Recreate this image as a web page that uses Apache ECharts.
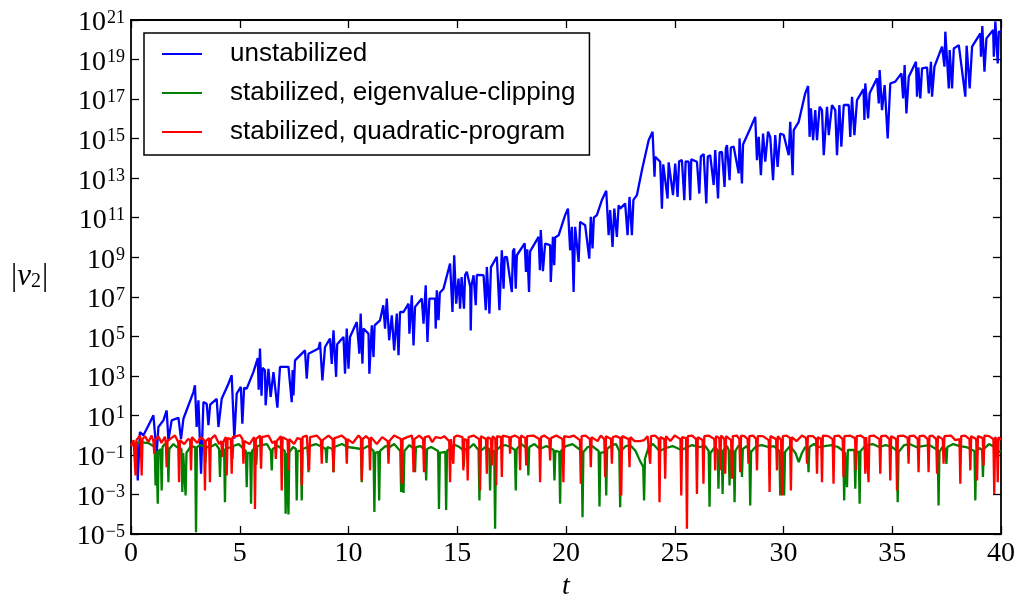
<!DOCTYPE html>
<html>
<head>
<meta charset="utf-8">
<script src="https://cdn.jsdelivr.net/npm/echarts@6/dist/echarts.min.js"></script>
<style>
html, body { margin: 0; padding: 0; background: #ffffff; overflow: hidden; }
#chart { width: 1017px; height: 594px; }
</style>
</head>
<body>
<div id="chart"></div>
<script>
// Legend names and line colours
const seriesNames = [
  'unstabilized',
  'stabilized, eigenvalue-clipping',
  'stabilized, quadratic-program'
];
const seriesColors = ['#0000ff', '#008000', '#ff0000'];

// Axis ranges and tick exponents (|v2| axis is logarithmic)
const tRange = [0, 40];
const tStep = 5;
const yExpRange = [-5, 21];
const yExpStep = 2;

// Samples of |v2| over time, stored as [t, log10 |v2|]
const unstabilized = [
  [0.00,-0.52],[0.26,-0.40],[0.31,-2.29],[0.41,0.16],[0.57,-0.01],[0.80,0.49],[1.03,1.00],[1.18,-0.94],
  [1.26,0.41],[1.49,0.75],[1.64,1.25],[1.72,-0.26],[1.87,0.75],[2.18,0.88],[2.30,-0.20],[2.41,0.83],
  [2.87,2.18],[2.94,2.52],[3.02,0.41],[3.10,1.76],[3.22,-1.95],[3.33,1.67],[3.48,1.59],[3.56,0.50],
  [3.64,1.55],[3.71,1.51],[3.94,1.84],[4.02,0.41],[4.17,1.84],[4.48,2.60],[4.63,3.03],[4.75,-0.18],
  [4.86,2.10],[5.05,2.45],[5.12,0.58],[5.20,2.40],[5.32,2.35],[5.63,3.20],[5.83,3.90],[5.87,2.30],
  [5.93,4.38],[6.00,2.00],[6.05,3.40],[6.16,3.28],[6.19,1.51],[6.32,3.36],[6.42,1.93],[6.55,3.19],
  [6.73,1.39],[6.85,3.45],[7.24,3.45],[7.39,1.67],[7.43,3.30],[7.47,2.01],[7.54,3.78],[8.00,4.29],
  [8.08,2.86],[8.16,4.12],[8.62,4.38],[8.69,4.71],[8.80,2.77],[8.92,4.46],[9.15,4.88],[9.23,3.60],
  [9.31,5.30],[9.43,2.95],[9.48,4.60],[9.77,4.97],[9.84,3.11],[9.92,5.39],[10.00,3.36],[10.07,4.97],
  [10.38,5.72],[10.50,4.12],[10.56,6.15],[10.64,3.62],[10.69,5.39],[10.92,5.13],[10.96,3.11],[11.07,5.56],
  [11.15,3.95],[11.20,5.55],[11.45,5.81],[11.60,6.57],[11.68,5.39],[11.76,6.91],[11.87,4.80],[11.99,6.06],
  [12.10,4.29],[12.22,6.15],[12.30,4.04],[12.37,6.23],[12.53,6.23],[12.76,6.65],[12.80,5.13],[12.91,7.07],
  [12.99,4.54],[13.06,6.49],[13.37,6.91],[13.45,5.64],[13.55,7.58],[13.63,4.71],[13.72,6.91],[13.98,6.91],
  [14.01,5.39],[14.06,7.33],[14.14,5.81],[14.20,7.20],[14.37,7.41],[14.67,8.68],[14.78,6.23],[14.86,9.10],
  [14.95,6.65],[15.06,7.92],[15.13,6.40],[15.20,8.00],[15.26,8.09],[15.31,6.40],[15.36,8.10],[15.44,8.26],
  [15.60,7.50],[15.62,5.30],[15.66,7.60],[15.75,8.09],[15.85,6.57],[15.90,8.10],[15.98,8.17],[16.21,8.09],
  [16.31,6.32],[16.36,8.51],[16.48,6.15],[16.55,8.50],[16.82,9.02],[16.94,6.32],[17.05,9.35],[17.13,7.41],
  [17.18,9.00],[17.28,9.02],[17.51,7.24],[17.56,9.30],[17.62,9.44],[17.69,7.41],[17.74,9.10],[17.82,9.02],
  [18.10,9.70],[18.16,8.26],[18.22,9.40],[18.30,7.24],[18.35,9.30],[18.43,9.35],[18.74,10.03],[18.80,8.34],
  [18.84,10.37],[18.94,8.30],[19.04,9.69],[19.27,9.61],[19.30,7.75],[19.40,10.03],[19.46,8.60],[19.50,10.00],
  [19.66,10.11],[19.96,11.13],[20.09,11.46],[20.19,9.35],[20.27,10.54],[20.35,7.24],[20.42,10.54],[20.58,8.76],
  [20.65,10.79],[20.88,10.62],[21.07,8.93],[21.14,11.04],[21.22,9.44],[21.28,11.00],[21.42,11.13],[21.65,11.89],
  [21.85,12.36],[21.96,10.11],[22.03,11.38],[22.14,9.52],[22.22,11.46],[22.34,10.03],[22.42,11.63],[22.49,11.46],
  [22.72,11.72],[22.83,10.11],[22.92,12.05],[23.03,10.11],[23.10,11.90],[23.26,12.14],[23.49,13.40],[23.80,14.92],
  [23.98,15.35],[24.07,13.07],[24.10,14.08],[24.33,13.83],[24.41,11.46],[24.47,13.70],[24.56,13.66],[24.67,11.97],
  [24.72,13.80],[24.79,13.83],[24.92,12.14],[25.02,13.74],[25.13,12.05],[25.20,13.85],[25.33,13.91],[25.44,11.89],
  [25.50,13.85],[25.64,13.83],[25.71,11.89],[25.76,13.95],[25.84,14.05],[26.02,13.83],[26.13,12.22],[26.20,14.10],
  [26.33,14.22],[26.45,11.72],[26.52,14.10],[26.63,14.16],[26.79,12.65],[26.86,14.42],[26.99,11.97],[27.06,14.30],
  [27.17,14.33],[27.29,12.56],[27.35,14.50],[27.40,14.67],[27.52,12.90],[27.58,14.55],[27.71,14.59],[27.94,13.24],
  [27.98,15.01],[28.09,12.73],[28.14,14.70],[28.20,14.67],[28.47,15.51],[28.70,16.10],[28.78,13.91],[28.86,15.09],
  [28.96,13.15],[29.06,15.26],[29.16,13.83],[29.29,15.35],[29.39,15.09],[29.52,12.90],[29.62,15.18],[29.73,13.57],
  [29.85,15.26],[30.01,15.18],[30.24,14.16],[30.31,15.85],[30.42,13.15],[30.47,15.43],[30.70,15.85],[31.00,17.29],
  [31.13,17.66],[31.20,15.09],[31.26,16.53],[31.36,14.92],[31.46,16.44],[31.54,14.92],[31.66,16.61],[31.77,16.44],
  [31.85,14.16],[32.00,16.61],[32.08,15.18],[32.23,16.70],[32.38,16.44],[32.46,14.16],[32.57,16.70],[32.66,14.59],
  [32.77,16.70],[33.00,16.70],[33.07,15.09],[33.15,17.12],[33.26,15.18],[33.38,16.95],[33.68,17.50],[33.72,15.94],
  [33.76,17.79],[33.89,16.02],[33.96,17.29],[34.30,18.05],[34.38,16.78],[34.42,18.47],[34.53,16.44],[34.65,17.71],
  [34.79,15.01],[34.91,17.79],[35.14,17.88],[35.42,18.30],[35.50,17.03],[35.57,18.72],[35.65,16.27],[35.76,18.13],
  [36.09,18.89],[36.14,17.12],[36.20,18.60],[36.29,17.03],[36.37,18.55],[36.60,18.60],[36.68,17.29],[36.78,18.89],
  [36.83,17.12],[36.94,18.64],[37.29,19.65],[37.40,18.64],[37.44,20.41],[37.60,17.54],[37.64,19.48],[37.75,17.54],
  [37.83,19.56],[38.06,19.73],[38.36,17.12],[38.42,19.70],[38.47,19.73],[38.56,17.54],[38.67,19.65],[39.05,20.32],
  [39.08,19.14],[39.14,20.70],[39.24,18.38],[39.33,20.07],[39.64,20.49],[39.67,19.14],[39.74,20.92],[39.85,18.80],
  [39.90,20.41],[40.00,20.41]
];

const eigenvalueClipping = [
  [0.00,-0.50],[0.40,-0.35],[0.80,-0.40],[1.09,-0.60],[1.13,-2.54],[1.17,-0.80],[1.19,-0.90],[1.23,-3.47],
  [1.27,-0.80],[1.37,-0.70],[1.41,-2.80],[1.45,-0.60],[1.55,-0.45],[1.68,-0.60],[1.72,-2.38],[1.76,-0.70],
  [1.95,-0.45],[2.10,-0.60],[2.32,-0.70],[2.36,-2.88],[2.40,-0.90],[2.47,-0.90],[2.51,-3.05],[2.55,-0.90],
  [2.75,-0.55],[2.95,-0.60],[2.99,-4.91],[3.03,-0.60],[3.20,-0.50],[3.38,-0.60],[3.42,-1.40],[3.46,-0.60],
  [3.65,-0.60],[3.90,-0.45],[4.05,-0.70],[4.09,-2.12],[4.13,-0.80],[4.28,-0.70],[4.32,-3.39],[4.36,-0.70],
  [4.60,-0.60],[4.66,-1.20],[4.70,-0.55],[4.95,-0.45],[5.28,-0.80],[5.32,-2.63],[5.36,-0.90],[5.48,-0.90],
  [5.52,-3.47],[5.56,-0.80],[5.72,-0.60],[5.76,-1.50],[5.80,-0.55],[6.00,-0.50],[6.25,-0.45],[6.43,-0.80],
  [6.47,-1.78],[6.51,-0.70],[6.75,-0.55],[6.95,-0.70],[7.07,-0.80],[7.11,-3.98],[7.15,-0.90],[7.20,-0.90],
  [7.24,-4.01],[7.28,-0.85],[7.45,-0.60],[7.58,-0.70],[7.62,-3.30],[7.66,-0.80],[7.81,-0.80],[7.85,-3.30],
  [7.89,-0.70],[8.12,-0.60],[8.16,-1.87],[8.20,-0.55],[8.50,-0.45],[8.80,-0.60],[8.95,-0.70],[8.99,-1.40],
  [9.03,-0.60],[9.27,-0.70],[9.31,-1.87],[9.35,-0.60],[9.70,-0.45],[9.95,-0.60],[10.30,-0.65],[10.57,-0.70],
  [10.61,-2.38],[10.65,-0.70],[10.90,-0.55],[11.15,-0.80],[11.19,-3.89],[11.23,-0.90],[11.37,-0.85],[11.41,-3.30],
  [11.45,-0.80],[11.70,-0.55],[11.90,-0.60],[12.10,-0.45],[12.38,-0.80],[12.42,-2.88],[12.46,-0.90],[12.49,-0.90],
  [12.53,-2.93],[12.57,-0.80],[12.80,-0.50],[13.02,-0.70],[13.06,-1.87],[13.10,-0.60],[13.30,-0.55],[13.53,-0.75],
  [13.57,-2.29],[13.61,-0.70],[13.80,-0.60],[14.12,-0.80],[14.16,-3.73],[14.20,-0.90],[14.45,-0.85],[14.49,-3.78],
  [14.53,-0.80],[14.70,-0.65],[14.90,-0.50],[15.10,-0.60],[15.26,-0.75],[15.30,-1.60],[15.34,-0.70],[15.50,-0.70],
  [15.75,-0.45],[15.98,-0.75],[16.02,-3.30],[16.06,-0.80],[16.30,-0.60],[16.47,-0.70],[16.51,-2.80],[16.55,-0.80],
  [16.70,-0.80],[16.74,-4.74],[16.78,-0.80],[17.00,-0.55],[17.20,-0.50],[17.45,-0.60],[17.65,-0.75],[17.69,-2.80],
  [17.73,-0.70],[17.95,-0.45],[18.23,-0.70],[18.27,-2.04],[18.31,-0.60],[18.55,-0.45],[18.80,-0.70],[19.10,-0.55],
  [19.43,-0.75],[19.47,-2.29],[19.51,-0.80],[19.69,-0.85],[19.73,-3.47],[19.77,-0.80],[20.00,-0.55],[20.30,-0.45],
  [20.72,-0.80],[20.76,-4.15],[20.80,-0.85],[21.00,-0.60],[21.20,-0.55],[21.50,-0.80],[21.54,-3.61],[21.58,-0.90],
  [21.81,-0.85],[21.85,-3.05],[21.89,-0.70],[22.10,-0.50],[22.30,-0.45],[22.45,-0.80],[22.49,-3.64],[22.53,-0.80],
  [22.75,-0.55],[22.95,-0.50],[23.20,-0.80],[23.40,-1.30],[23.55,-1.60],[23.59,-3.30],[23.63,-1.20],[23.80,-0.60],
  [24.00,-0.45],[24.30,-0.80],[24.60,-0.65],[24.90,-0.55],[25.30,-0.75],[25.60,-0.60],[25.80,-0.50],[26.10,-0.60],
  [26.40,-0.55],[26.56,-0.80],[26.60,-3.62],[26.64,-0.90],[26.85,-0.60],[26.97,-0.75],[27.01,-2.71],[27.05,-0.80],
  [27.16,-0.80],[27.20,-2.97],[27.24,-0.75],[27.40,-0.55],[27.48,-0.75],[27.52,-2.54],[27.56,-0.80],[27.71,-0.80],
  [27.75,-3.39],[27.79,-0.80],[27.95,-0.50],[28.05,-0.70],[28.09,-2.12],[28.13,-0.70],[28.30,-0.55],[28.43,-0.75],
  [28.47,-3.56],[28.51,-0.85],[28.75,-0.55],[29.00,-0.50],[29.30,-0.60],[29.55,-0.55],[29.81,-0.80],[29.85,-3.05],
  [29.89,-0.90],[29.99,-0.90],[30.03,-3.05],[30.07,-0.85],[30.30,-0.55],[30.55,-0.90],[30.70,-1.36],[30.85,-0.90],
  [31.00,-0.60],[31.11,-0.70],[31.15,-1.87],[31.19,-0.60],[31.40,-0.45],[31.60,-0.60],[31.90,-0.55],[32.20,-0.50],
  [32.50,-0.60],[32.75,-0.80],[32.79,-3.30],[32.83,-0.85],[32.88,-0.85],[32.92,-2.63],[32.96,-0.75],[33.26,-0.75],
  [33.30,-2.71],[33.34,-0.85],[33.46,-0.85],[33.50,-3.47],[33.54,-0.80],[33.80,-0.50],[34.10,-0.45],[34.40,-0.60],
  [34.70,-0.50],[35.00,-0.60],[35.21,-0.80],[35.25,-3.39],[35.29,-0.85],[35.55,-0.50],[35.80,-0.45],[36.10,-0.60],
  [36.40,-0.55],[36.70,-0.50],[37.09,-0.75],[37.13,-3.56],[37.17,-0.85],[37.30,-0.60],[37.45,-0.70],[37.49,-1.45],
  [37.53,-0.60],[37.80,-0.45],[38.10,-0.55],[38.40,-0.60],[38.78,-0.80],[38.82,-3.30],[38.86,-0.85],[39.00,-0.65],
  [39.13,-0.75],[39.17,-2.12],[39.21,-0.70],[39.45,-0.45],[39.70,-0.60],[39.90,-0.85],[40.00,-0.80]
];

const quadraticProgram = [
  [0.00,-0.55],[0.12,-0.25],[0.17,-0.35],[0.21,-2.04],[0.25,-0.25],[0.41,-0.02],[0.45,-0.30],[0.49,-2.04],
  [0.53,-0.20],[0.64,-0.05],[0.80,-0.35],[0.95,-0.02],[1.03,-0.30],[1.07,-0.94],[1.11,-0.25],[1.26,-0.05],
  [1.40,-0.40],[1.56,-0.08],[1.60,-0.35],[1.64,-1.62],[1.68,-0.30],[1.85,-0.15],[2.02,-0.02],[2.17,-0.35],
  [2.21,-2.38],[2.25,-0.25],[2.45,-0.45],[2.62,-0.20],[2.72,-0.25],[2.76,-1.78],[2.80,-0.10],[2.87,-0.02],
  [3.05,-0.40],[3.20,-0.10],[3.36,-0.25],[3.40,-2.80],[3.44,-0.30],[3.59,-0.15],[3.63,-2.38],[3.67,-0.20],
  [3.86,0.00],[4.05,-0.45],[4.15,-0.30],[4.20,-1.10],[4.24,-0.35],[4.36,-0.10],[4.40,-2.04],[4.44,-0.15],
  [4.59,-0.20],[4.63,-1.95],[4.67,-0.10],[4.85,-0.05],[5.01,0.00],[5.13,-0.20],[5.17,-1.45],[5.21,-0.30],
  [5.45,-0.45],[5.66,-0.10],[5.70,-3.73],[5.74,-0.20],[5.93,-0.02],[5.98,-1.70],[6.02,-0.10],[6.32,-0.02],
  [6.50,-0.40],[6.62,-0.30],[6.66,-1.20],[6.70,-0.30],[6.89,-0.05],[6.93,-2.80],[6.97,-0.10],[7.20,-0.25],
  [7.24,-1.78],[7.28,-0.20],[7.50,-0.45],[7.65,-0.15],[7.81,-0.20],[7.85,-2.54],[7.89,-0.10],[8.08,-0.02],
  [8.15,-0.10],[8.19,-1.78],[8.23,-0.10],[8.54,-0.02],[8.73,-0.25],[8.77,-1.45],[8.81,-0.25],[9.08,-0.02],
  [9.27,-0.20],[9.31,-1.87],[9.35,-0.15],[9.50,-0.10],[9.69,-0.02],[9.88,-0.20],[9.92,-1.45],[9.96,-0.20],
  [10.20,-0.40],[10.46,-0.02],[10.57,-0.15],[10.61,-2.29],[10.65,-0.20],[10.80,-0.05],[10.95,-0.20],[10.99,-1.78],
  [11.03,-0.10],[11.30,-0.45],[11.55,-0.10],[11.80,-0.30],[11.84,-1.45],[11.88,-0.30],[12.10,-0.02],[12.41,-0.20],
  [12.45,-2.46],[12.49,-0.20],[12.70,-0.10],[12.91,-0.02],[12.95,-0.25],[12.99,-1.87],[13.03,-0.20],[13.25,-0.02],
  [13.43,-0.20],[13.47,-1.87],[13.51,-0.10],[13.70,-0.05],[13.85,-0.35],[14.00,-0.10],[14.25,-0.15],[14.40,-0.05],
  [14.63,-0.30],[14.67,-2.38],[14.71,-0.20],[14.78,-0.15],[14.82,-1.45],[14.86,-0.10],[15.00,-0.02],[15.24,-0.10],
  [15.28,-1.78],[15.32,-0.20],[15.44,-0.25],[15.48,-2.29],[15.52,-0.10],[15.75,-0.02],[16.01,-0.20],[16.05,-2.80],
  [16.09,-0.05],[16.32,-0.20],[16.36,-1.95],[16.40,-0.10],[16.55,-0.20],[16.59,-1.53],[16.63,-0.05],[16.75,-0.20],
  [16.79,-2.54],[16.83,-0.05],[17.01,-0.10],[17.05,-2.12],[17.09,-0.02],[17.39,-0.10],[17.43,-0.94],[17.47,-0.10],
  [17.65,-0.02],[17.85,-0.15],[17.89,-1.78],[17.93,-0.02],[18.13,-0.15],[18.17,-1.53],[18.21,-0.05],[18.50,-0.02],
  [18.77,-0.20],[18.81,-2.38],[18.85,-0.10],[19.00,-0.02],[19.23,-0.20],[19.27,-1.28],[19.31,-0.15],[19.55,-0.02],
  [19.84,-0.20],[19.88,-2.38],[19.92,-0.05],[20.15,-0.10],[20.35,-0.02],[20.64,-0.25],[20.68,-2.46],[20.72,-0.05],
  [20.90,-0.02],[21.10,-0.20],[21.14,-1.62],[21.18,-0.10],[21.45,-0.30],[21.60,-0.02],[21.76,-0.20],[21.80,-2.12],
  [21.84,-0.05],[22.07,-0.20],[22.11,-1.45],[22.15,-0.10],[22.30,-0.05],[22.50,-0.15],[22.54,-3.05],[22.58,-0.05],
  [22.88,-0.20],[22.92,-1.62],[22.96,-0.10],[23.15,-0.30],[23.40,-0.30],[23.60,-0.25],[23.75,-0.05],[23.83,-0.10],
  [23.87,-1.45],[23.91,-0.05],[24.10,-0.02],[24.26,-0.20],[24.30,-3.39],[24.34,-0.10],[24.52,-0.20],[24.56,-2.21],
  [24.60,-0.05],[24.80,-0.30],[25.00,-0.02],[25.26,-0.20],[25.30,-3.05],[25.34,-0.10],[25.52,-0.15],[25.56,-4.74],
  [25.60,-0.05],[25.80,-0.02],[25.98,-0.20],[26.02,-2.97],[26.06,-0.10],[26.28,-0.25],[26.32,-2.46],[26.36,-0.05],
  [26.55,-0.02],[26.82,-0.20],[26.86,-1.78],[26.90,-0.05],[27.05,-0.15],[27.09,-1.78],[27.13,-0.02],[27.28,-0.20],
  [27.32,-1.95],[27.36,-0.05],[27.59,-0.25],[27.63,-2.21],[27.67,-0.05],[27.85,-0.02],[27.97,-0.20],[28.01,-1.87],
  [28.05,-0.02],[28.20,-0.05],[28.35,-0.20],[28.39,-1.45],[28.43,-0.05],[28.60,-0.02],[28.74,-0.20],[28.78,-1.78],
  [28.82,-0.05],[29.05,-0.05],[29.32,-0.25],[29.36,-2.88],[29.40,-0.05],[29.66,-0.20],[29.70,-1.78],[29.74,-0.05],
  [29.89,-0.25],[29.93,-3.05],[29.97,-0.05],[30.15,-0.02],[30.30,-0.15],[30.34,-2.80],[30.38,-0.10],[30.60,-0.30],
  [30.85,-0.02],[31.04,-0.15],[31.08,-1.45],[31.12,-0.05],[31.35,-0.05],[31.50,-0.20],[31.54,-1.95],[31.58,-0.10],
  [31.73,-0.20],[31.77,-2.38],[31.81,-0.02],[32.05,-0.05],[32.26,-0.20],[32.30,-2.46],[32.34,-0.05],[32.55,-0.02],
  [32.72,-0.20],[32.76,-2.12],[32.80,-0.05],[33.05,-0.02],[33.29,-0.15],[33.33,-1.78],[33.37,-0.05],[33.55,-0.02],
  [33.72,-0.15],[33.76,-1.95],[33.80,-0.10],[33.87,-0.20],[33.91,-2.38],[33.95,-0.05],[34.15,-0.02],[34.41,-0.20],
  [34.45,-1.95],[34.49,-0.05],[34.70,-0.02],[34.87,-0.20],[34.91,-2.29],[34.95,-0.05],[35.18,-0.20],[35.22,-2.80],
  [35.26,-0.05],[35.50,-0.02],[35.71,-0.15],[35.75,-1.45],[35.79,-0.05],[36.00,-0.02],[36.17,-0.20],[36.21,-1.87],
  [36.25,-0.05],[36.45,-0.02],[36.63,-0.20],[36.67,-1.87],[36.71,-0.05],[36.85,-0.02],[37.02,-0.20],[37.06,-1.95],
  [37.10,-0.05],[37.32,-0.20],[37.36,-1.45],[37.40,-0.05],[37.70,-0.02],[37.90,-0.25],[38.09,-0.20],[38.13,-2.46],
  [38.17,-0.05],[38.35,-0.02],[38.55,-0.20],[38.59,-1.78],[38.63,-0.05],[38.86,-0.20],[38.90,-2.29],[38.94,-0.05],
  [39.16,-0.15],[39.20,-1.53],[39.24,-0.02],[39.45,-0.05],[39.65,-0.20],[39.69,-2.97],[39.73,-0.10],[39.81,-0.25],
  [39.85,-2.38],[39.89,-0.10],[40.00,-0.25]
];

const seriesData = [unstabilized, eigenvalueClipping, quadraticProgram];

const serif = 'Liberation Serif';
const sans = 'Liberation Sans';

// back from log10 to |v2| for the log axis
const toValues = arr => arr.map(p => [p[0], Math.pow(10, p[1])]);

const powerLabel = value => {
  const e = Math.round(Math.log10(value));
  return '{b|10}{e|' + (e < 0 ? '\u2212' + (-e) : e) + '}';
};

const frameLine = { show: true, onZero: false, lineStyle: { color: '#000', width: 1.8 } };
const tickIn = { show: true, inside: true, length: 8, lineStyle: { color: '#000', width: 1.3 } };

const chart = echarts.init(document.getElementById('chart'), null, { renderer: 'canvas' });

chart.setOption({
  animation: false,
  backgroundColor: '#ffffff',
  grid: { left: 131, right: 16, top: 20, bottom: 60, containLabel: false, outerBoundsMode: 'none' },
  legend: {
    left: 144,
    top: 33,
    orient: 'vertical',
    icon: 'rect',
    itemWidth: 40,
    itemHeight: 2,
    itemGap: 13,
    padding: [8, 14, 10, 18],
    backgroundColor: '#ffffff',
    borderColor: '#000000',
    borderWidth: 1.5,
    borderRadius: 0,
    textStyle: { fontFamily: sans, fontSize: 26, lineHeight: 26, color: '#000', padding: [0, 0, 0, 23] },
    data: seriesNames
  },
  xAxis: [
    {
      type: 'value', min: tRange[0], max: tRange[1], interval: tStep,
      axisLine: frameLine, axisTick: tickIn, splitLine: { show: false },
      axisLabel: { fontFamily: serif, fontSize: 28, color: '#000', margin: 6 },
      name: 't', nameLocation: 'middle', nameGap: 27,
      nameTextStyle: { fontFamily: serif, fontStyle: 'italic', fontSize: 28, color: '#000' }
    },
    {
      type: 'value', position: 'top', min: tRange[0], max: tRange[1], interval: tStep,
      axisLine: frameLine, axisTick: tickIn, axisLabel: { show: false }, splitLine: { show: false }
    }
  ],
  yAxis: [
    {
      type: 'log', logBase: 10,
      min: Math.pow(10, yExpRange[0]), max: Math.pow(10, yExpRange[1]), interval: yExpStep,
      axisLine: frameLine, axisTick: tickIn, splitLine: { show: false }, minorTick: { show: false },
      axisLabel: {
        margin: 6, color: '#000', formatter: powerLabel, padding: [6, 0, 0, 0],
        rich: {
          b: { fontFamily: serif, fontSize: 28, lineHeight: 28, color: '#000' },
          e: { fontFamily: serif, fontSize: 18, lineHeight: 18, color: '#000', padding: [0, 0, 10, 1] }
        }
      }
    },
    {
      type: 'log', logBase: 10, position: 'right',
      min: Math.pow(10, yExpRange[0]), max: Math.pow(10, yExpRange[1]), interval: yExpStep,
      axisLine: frameLine, axisTick: tickIn, axisLabel: { show: false }, splitLine: { show: false }
    }
  ],
  graphic: [
    {
      type: 'text', left: 11, top: 261,
      style: {
        text: '{p||}{v|v}{s|2}{p||}',
        rich: {
          p: { fontFamily: serif, fontSize: 31, lineHeight: 32, fill: '#000' },
          v: { fontFamily: serif, fontStyle: 'italic', fontSize: 31, lineHeight: 32, fill: '#000' },
          s: { fontFamily: serif, fontSize: 20, lineHeight: 20, fill: '#000', padding: [11, 1, 0, 0] }
        }
      }
    }
  ],
  series: seriesData.map((arr, i) => ({
    name: seriesNames[i],
    type: 'line',
    xAxisIndex: 0,
    yAxisIndex: 0,
    data: toValues(arr),
    symbol: 'none',
    showSymbol: false,
    smooth: false,
    color: seriesColors[i],
    lineStyle: { color: seriesColors[i], width: 2.3 },
    z: 2 + i
  }))
});
</script>
</body>
</html>
